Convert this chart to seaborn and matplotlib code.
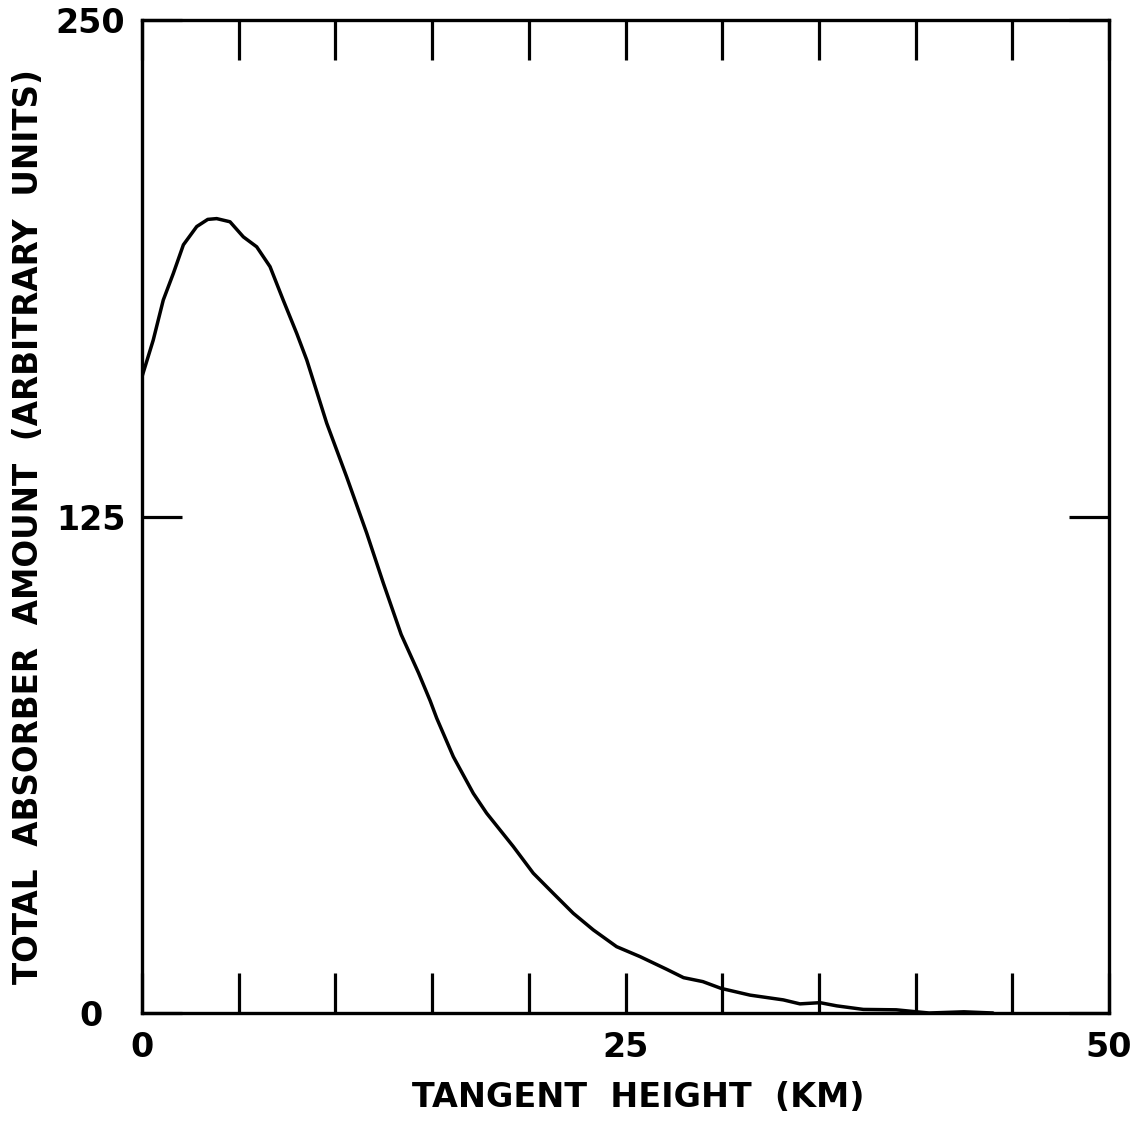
import numpy as np
import pandas as pd
import matplotlib
matplotlib.use("Agg")
import matplotlib.pyplot as plt
import seaborn as sns

# ---- data ----
tangent_height_km = [0.0, 0.58, 1.1, 1.62, 2.14, 2.83, 3.4, 3.86, 4.55, 5.24, 5.93,
                     6.62, 7.3, 8.0, 8.52, 9.55, 10.58, 11.62, 12.48,
                     13.4, 14.3, 14.9, 15.24, 16.1, 17.13, 17.82, 19.2, 20.23, 21.27,
                     22.3, 23.34, 24.54, 25.75, 27.13, 28.0, 29.0, 29.94, 31.44,
                     33.16, 34.02, 35.06, 35.92, 37.3, 39.0, 40.05, 40.7, 42.5, 44.0]
absorber_amount = [160.2, 169.4, 179.5, 186.2, 193.4, 198.0, 199.8, 200.0, 199.2, 195.4, 192.9,
                   187.9, 179.5, 171.1, 164.4, 148.5, 135.0, 120.8, 108.2,
                   95.3, 85.6, 78.6, 74.2, 64.5, 55.3, 50.3, 41.9, 35.2, 30.1,
                   25.1, 20.9, 16.7, 14.2, 11.0, 8.9, 7.9, 6.2, 4.5,
                   3.3, 2.3, 2.6, 1.8, 0.9, 0.8, 0.3, 0.0, 0.3, 0.0]
x_ticks = [0, 5, 10, 15, 20, 25, 30, 35, 40, 45, 50]
x_tick_labels = ["0", "", "", "", "", "25", "", "", "", "", "50"]
y_ticks = [0, 125, 250]
y_tick_labels = ["0", "125", "250"]

df = pd.DataFrame({"km": tangent_height_km, "amount": absorber_amount})

sns.set_theme(style="white")
plt.rcParams["font.family"] = ["DejaVu Sans"]

fig = plt.figure(figsize=(11.45, 11.25), dpi=100)
ax = fig.add_axes([142 / 1145, 1 - 1013 / 1125, (1109 - 142) / 1145, (1013 - 20) / 1125])

sns.lineplot(data=df, x="km", y="amount", ax=ax, color="black", linewidth=2.5,
             estimator=None, sort=False)
for ln in ax.lines:
    ln.set_solid_joinstyle("round")
    ln.set_solid_capstyle("round")

ax.set_xlim(0, 50)
ax.set_ylim(0, 250)
for s in ax.spines.values():
    s.set_visible(True)
    s.set_color("black")
    s.set_linewidth(2.4)

ax.set_xticks(x_ticks)
ax.set_xticklabels(x_tick_labels)
ax.set_yticks(y_ticks)
ax.set_yticklabels(y_tick_labels)
ax.tick_params(axis="x", direction="in", length=29, width=2.3, top=True, bottom=True,
               labelsize=24, pad=13, colors="black")
ax.tick_params(axis="y", direction="in", length=29, width=2.3, left=True, right=True,
               labelsize=24, pad=37, colors="black")
for t in ax.get_yticklabels() + ax.get_xticklabels():
    t.set_fontweight("bold")
for t in ax.get_yticklabels():
    t.set_horizontalalignment("center")

ax.set_xlabel("TANGENT  HEIGHT  (KM)", fontsize=24, color="black", fontweight="bold")
ax.xaxis.set_label_coords(0.513, -0.085)
ax.xaxis.label.set_verticalalignment("center")
ax.set_ylabel("TOTAL  ABSORBER  AMOUNT  (ARBITRARY  UNITS)", fontsize=23.5, color="black",
              fontweight="bold")
ax.yaxis.set_label_coords(-0.117, 0.49)
ax.yaxis.label.set_verticalalignment("center")

fig.savefig("out.png", dpi=100, facecolor="white")
